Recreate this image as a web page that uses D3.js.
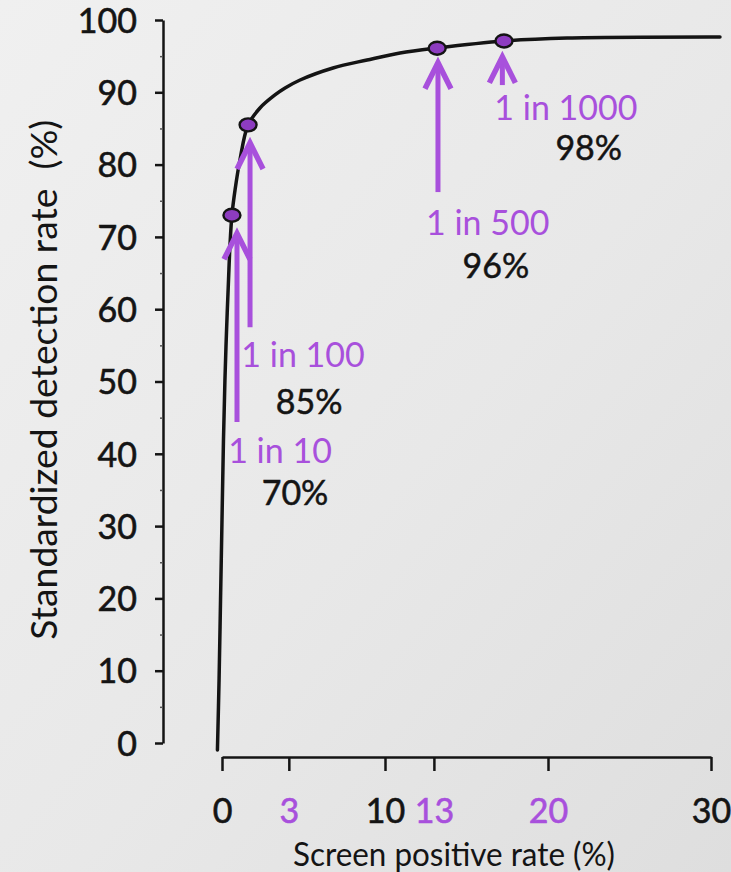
<!DOCTYPE html>
<html>
<head>
<meta charset="utf-8">
<script src="https://cdn.jsdelivr.net/npm/d3@7"></script>
<style>
  html, body { margin: 0; padding: 0; background: #e8e8e8; }
  svg { display: block; }
  text { font-family: "Lato", "Open Sans", "DejaVu Sans", sans-serif; }
</style>
</head>
<body>
<svg id="chart" width="731" height="872"></svg>
<script>
// ---------- data ----------
const yTickValues = [0, 10, 20, 30, 40, 50, 60, 70, 80, 90, 100];
const yMinorTicks = [5, 15, 25, 35, 45, 55, 65, 75, 85, 95];
// position of each x tick on the axis scale, and the text printed under it
const xTickPositions = [0, 4.1, 10, 13, 20, 30];
const xTickLabels = ["0", "3", "10", "13", "20", "30"];
const xTickHighlighted = ["3", "13", "20"];

// detection-rate curve (screen positive rate %, detection rate %)
const curveX = [-0.28, -0.18, -0.09, 0, 0.09, 0.18, 0.28, 0.40, 0.49, 0.61, 0.80, 1.10, 1.60,
                2.33, 3.25, 3.87, 4.79, 6.81, 8.90, 10.92, 13.19, 17.30, 21.17, 30.55];
const curveY = [-0.97, 8.71, 19.78, 30.84, 41.91, 50.21, 57.12, 64.04, 68.88, 73.03, 76.49, 80.64, 85.48,
                87.83, 89.63, 90.59, 91.70, 93.36, 94.47, 95.44, 96.13, 97.10, 97.51, 97.65];

// highlighted cut-offs
const cutLabels = ["1 in 10", "1 in 100", "1 in 500", "1 in 1000"];
const cutPercents = ["70%", "85%", "96%", "98%"];
const pointX = [0.61, 1.6, 13.2, 17.3];
const pointY = [73.0, 85.5, 96.1, 97.1];
const arrowX = [0.92, 1.72, 13.25, 17.2];
const arrowTail = [44.4, 57.5, 76.2, 91.0];
const arrowTip = [70.5, 83.0, 94.1, 94.9];
const labelX = [3.56, 4.97, 16.3, 21.1];
const labelY = [38.7, 52.0, 70.3, 86.2];
const pctX = [4.48, 5.34, 16.8, 22.5];
const pctY = [32.9, 45.5, 64.3, 80.6];

// ---------- drawing ----------
const W = 731, H = 872;
const PURPLE = "#a850dc";
const POINT_FILL = "#8d3cc0";
const INK = "#141414";

const svg = d3.select("#chart");

// background
const defs = svg.append("defs");
const grad = defs.append("linearGradient").attr("id", "bg")
  .attr("x1", "0").attr("y1", "0").attr("x2", "1").attr("y2", "1");
grad.append("stop").attr("offset", "0%").attr("stop-color", "#f0f0f0");
grad.append("stop").attr("offset", "55%").attr("stop-color", "#e8e8e8");
grad.append("stop").attr("offset", "100%").attr("stop-color", "#dedede");
svg.append("rect").attr("width", W).attr("height", H).attr("fill", "url(#bg)");

const x = d3.scaleLinear().domain([0, 30]).range([222, 711]);
const y = d3.scaleLinear().domain([0, 100]).range([743, 20]);
const yAxisX = 163;
const xAxisY = 757;

// y axis
const yAxis = svg.append("g").attr("transform", `translate(${yAxisX},0)`)
  .call(d3.axisLeft(y).tickValues(yTickValues).tickSize(8).tickSizeOuter(0)
    .tickPadding(18).tickFormat(d3.format("d")));
yAxis.select(".domain").attr("stroke", INK).attr("stroke-width", 2.5);
yAxis.selectAll(".tick line").attr("stroke", INK).attr("stroke-width", 2.5);
yAxis.selectAll(".tick text").attr("fill", INK).attr("font-size", 34).attr("dy", "0.36em")
  .attr("stroke", INK).attr("stroke-width", 0.6);

const yMinor = svg.append("g").attr("transform", `translate(${yAxisX},0)`)
  .call(d3.axisLeft(y).tickValues(yMinorTicks).tickSize(3).tickFormat(""));
yMinor.select(".domain").remove();
yMinor.selectAll(".tick line").attr("stroke", "#555").attr("stroke-width", 1.5);

// x axis
const xAxis = svg.append("g").attr("transform", `translate(0,${xAxisY})`)
  .call(d3.axisBottom(x).tickValues(xTickPositions).tickSize(14).tickSizeOuter(0)
    .tickPadding(28).tickFormat((d, i) => xTickLabels[i]));
xAxis.select(".domain").attr("stroke", INK).attr("stroke-width", 2.5);
xAxis.selectAll(".tick line").attr("stroke", INK).attr("stroke-width", 2.5);
xAxis.selectAll(".tick text")
  .attr("font-size", 34)
  .each(function (d, i) {
    const c = xTickHighlighted.includes(xTickLabels[i]) ? PURPLE : INK;
    d3.select(this).attr("fill", c).attr("stroke", c).attr("stroke-width", 0.6);
  });

// axis titles
svg.append("text")
  .attr("transform", `translate(57,${(y(14) + y(86.5)) / 2}) rotate(-90)`)
  .attr("text-anchor", "middle")
  .attr("font-size", 36)
  .attr("textLength", 520)
  .attr("lengthAdjust", "spacingAndGlyphs")
  .attr("fill", INK)
  .style("white-space", "pre")
  .text("Standardized detection rate  (%)");

svg.append("text")
  .attr("x", 454).attr("y", 866)
  .attr("text-anchor", "middle")
  .attr("font-size", 32)
  .attr("textLength", 322)
  .attr("lengthAdjust", "spacingAndGlyphs")
  .attr("fill", INK)
  .text("Screen positive rate (%)");

// curve
const curvePts = curveX.map((v, i) => [v, curveY[i]]);
svg.append("path")
  .datum(curvePts)
  .attr("fill", "none")
  .attr("stroke", INK)
  .attr("stroke-width", 3.5)
  .attr("stroke-linecap", "round")
  .attr("d", d3.line().x(d => x(d[0])).y(d => y(d[1])).curve(d3.curveCatmullRom.alpha(0.5)));

// arrows
const cuts = cutLabels.map((lab, i) => ({
  lab, pct: cutPercents[i],
  px: pointX[i], py: pointY[i],
  ax: arrowX[i], tail: arrowTail[i], tip: arrowTip[i],
  lx: labelX[i], ly: labelY[i], tx: pctX[i], ty: pctY[i]
}));

const arrows = svg.append("g");
arrows.selectAll("line.shaft").data(cuts).join("line")
  .attr("class", "shaft")
  .attr("x1", d => x(d.ax)).attr("x2", d => x(d.ax))
  .attr("y1", d => y(d.tail)).attr("y2", d => y(d.tip) + 3)
  .attr("stroke", PURPLE).attr("stroke-width", 5);
arrows.selectAll("path.head").data(cuts).join("path")
  .attr("class", "head")
  .attr("fill", "none")
  .attr("stroke", PURPLE).attr("stroke-width", 5.5)
  .attr("stroke-linejoin", "miter")
  .attr("d", d => {
    const ax = x(d.ax), ty = y(d.tip);
    return `M${ax - 13},${ty + 26} L${ax},${ty} L${ax + 13},${ty + 26}`;
  });

// points
svg.append("g").selectAll("ellipse").data(cuts).join("ellipse")
  .attr("cx", d => x(d.px)).attr("cy", d => y(d.py))
  .attr("rx", 8.5).attr("ry", 6.5)
  .attr("fill", POINT_FILL)
  .attr("stroke", INK).attr("stroke-width", 2.4);

// labels
const labels = svg.append("g").attr("text-anchor", "middle").attr("font-size", 34);
labels.selectAll("text.lab").data(cuts).join("text")
  .attr("class", "lab")
  .attr("x", d => x(d.lx)).attr("y", d => y(d.ly))
  .attr("fill", PURPLE)
  .text(d => d.lab);
labels.selectAll("text.pct").data(cuts).join("text")
  .attr("class", "pct")
  .attr("x", d => x(d.tx)).attr("y", d => y(d.ty))
  .attr("fill", INK)
  .attr("stroke", INK).attr("stroke-width", 0.5)
  .text(d => d.pct);
</script>
</body>
</html>
